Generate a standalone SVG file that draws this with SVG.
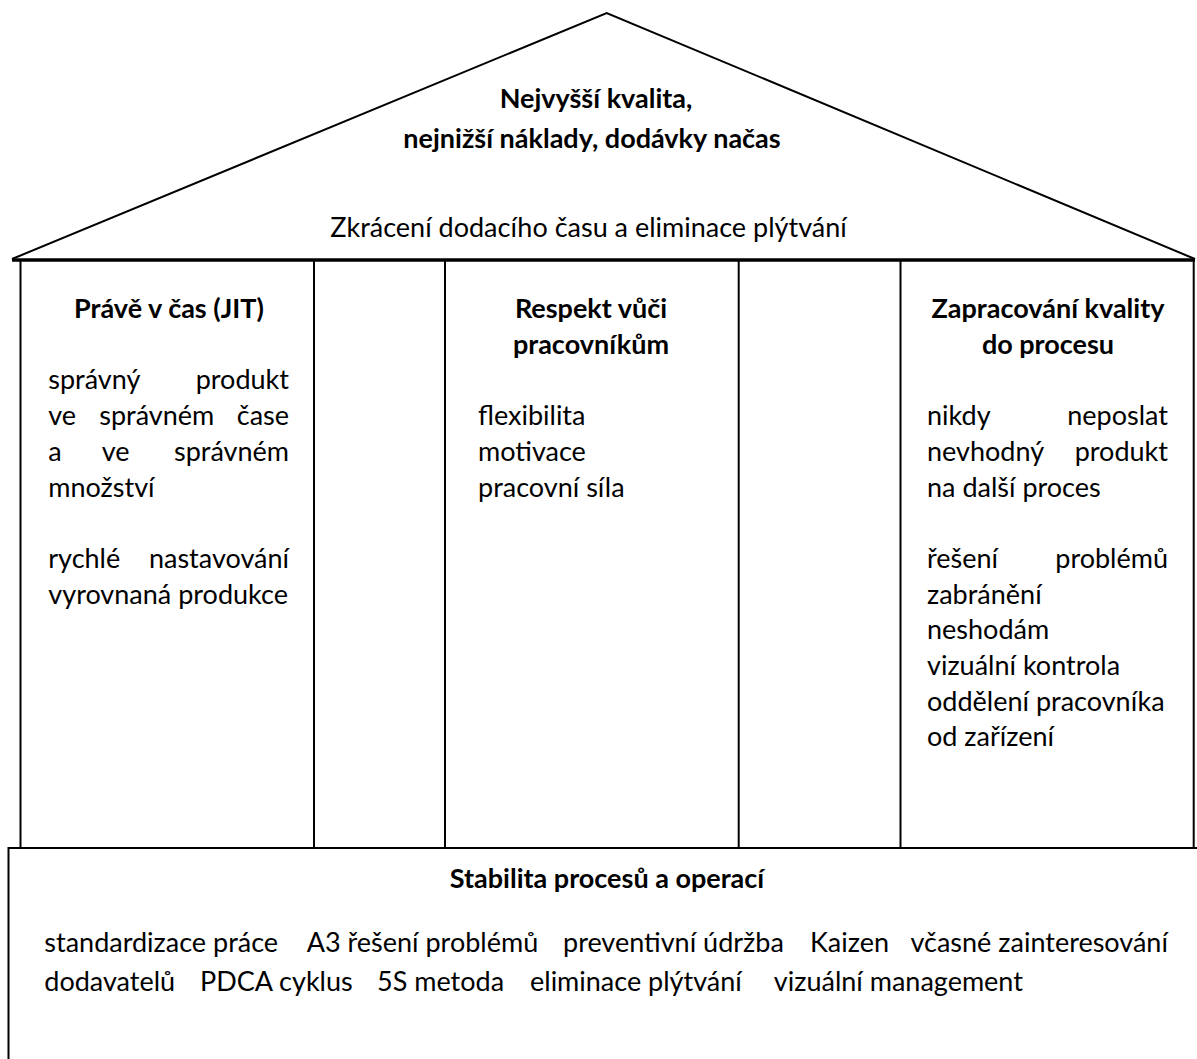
<svg xmlns="http://www.w3.org/2000/svg" width="1197" height="1059" viewBox="0 0 1197 1059">
<style>
.t{font-family:Lato,"Liberation Sans",sans-serif;font-size:27px;fill:#000}
.b{font-weight:bold}
.c{text-anchor:middle}
.e{text-anchor:end}
.ln{stroke:#000;stroke-width:2;fill:none}
.thick{stroke:#000;stroke-width:3.5;fill:none}
</style>
<rect width="1197" height="1059" fill="#fff"/>
<g id="roof">
<polyline class="ln" points="12,259 606.7,13 1195,259"/>
<line class="thick" x1="12" y1="260" x2="1195" y2="260"/>
<text class="t b c" x="596" y="108">Nejvyšší kvalita,</text>
<text class="t b c" x="592" y="148">nejnižší náklady, dodávky načas</text>
<text class="t c" x="588.5" y="237">Zkrácení dodacího času a eliminace plýtvání</text>
</g>
<g id="pillars-frame">
<line class="ln" x1="20.5" y1="261" x2="20.5" y2="848"/>
<line class="ln" x1="314" y1="261" x2="314" y2="848"/>
<line class="ln" x1="445" y1="261" x2="445" y2="848"/>
<line class="ln" x1="738.7" y1="261" x2="738.7" y2="848"/>
<line class="ln" x1="900.5" y1="261" x2="900.5" y2="848"/>
<line class="ln" x1="1193.7" y1="261" x2="1193.7" y2="848"/>
</g>
<g id="pillar-jit">
<text class="t b c" x="169" y="318">Právě v čas (JIT)</text>
<text class="t" x="48.3" y="389.4">správný</text>
<text class="t e" x="289" y="389.4">produkt</text>
<text class="t" x="48.3" y="425.1">ve</text>
<text class="t" x="99.3" y="425.1">správném</text>
<text class="t e" x="289" y="425.1">čase</text>
<text class="t" x="48.3" y="460.8">a</text>
<text class="t" x="101.7" y="460.8">ve</text>
<text class="t e" x="289" y="460.8">správném</text>
<text class="t" x="48.3" y="496.5">množství</text>
<text class="t" x="48.3" y="567.9">rychlé</text>
<text class="t e" x="289" y="567.9">nastavování</text>
<text class="t" x="48.3" y="603.6">vyrovnaná produkce</text>
</g>
<g id="pillar-respect">
<text class="t b c" x="591" y="318">Respekt vůči</text>
<text class="t b c" x="591" y="353.7">pracovníkům</text>
<text class="t" x="478" y="425.1">flexibilita</text>
<text class="t" x="478" y="460.8">motivace</text>
<text class="t" x="478" y="496.5">pracovní síla</text>
</g>
<g id="pillar-quality">
<text class="t b c" x="1048" y="318">Zapracování kvality</text>
<text class="t b c" x="1048" y="353.7">do procesu</text>
<text class="t" x="927" y="425.1">nikdy</text>
<text class="t e" x="1168" y="425.1">neposlat</text>
<text class="t" x="927" y="460.8">nevhodný</text>
<text class="t e" x="1168" y="460.8">produkt</text>
<text class="t" x="927" y="496.5">na další proces</text>
<text class="t" x="927" y="567.9">řešení</text>
<text class="t e" x="1168" y="567.9">problémů</text>
<text class="t" x="927" y="603.6">zabránění</text>
<text class="t" x="927" y="639.3">neshodám</text>
<text class="t" x="927" y="675">vizuální kontrola</text>
<text class="t" x="927" y="710.7">oddělení pracovníka</text>
<text class="t" x="927" y="746.4">od zařízení</text>
</g>
<g id="base">
<polyline class="ln" points="8.5,1060 8.5,848 1197,848"/>
<text class="t b c" x="607" y="888">Stabilita procesů a operací</text>
<text class="t" x="44.3" y="952">standardizace práce</text>
<text class="t" x="306.7" y="952">A3 řešení problémů</text>
<text class="t" x="563" y="952">preventivní údržba</text>
<text class="t" x="810" y="952">Kaizen</text>
<text class="t" x="910.5" y="952">včasné zainteresování</text>
<text class="t" x="44.3" y="990.5">dodavatelů</text>
<text class="t" x="200" y="990.5">PDCA cyklus</text>
<text class="t" x="377" y="990.5">5S metoda</text>
<text class="t" x="530" y="990.5">eliminace plýtvání</text>
<text class="t" x="773.8" y="990.5">vizuální management</text>
</g>
<g id="connectors"></g>
</svg>
